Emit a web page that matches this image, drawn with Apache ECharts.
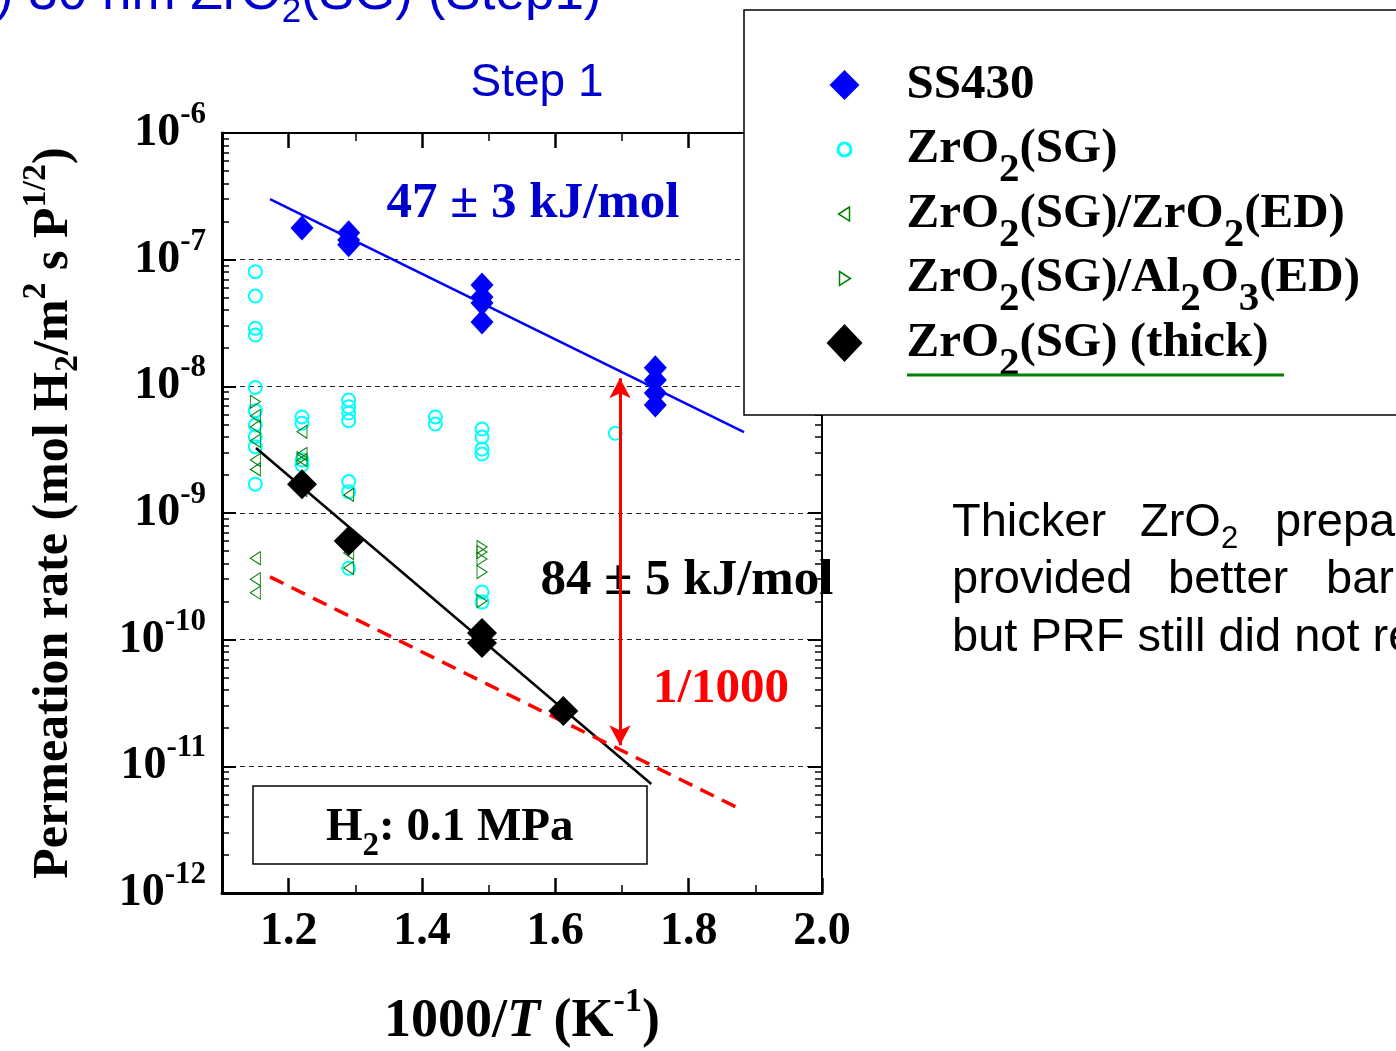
<!DOCTYPE html>
<html>
<head>
<meta charset="utf-8">
<title>Permeation rate</title>
<script src="https://cdn.jsdelivr.net/npm/echarts@6.0.0/dist/echarts.min.js"></script>
<style>
  html, body { margin: 0; padding: 0; background: #ffffff; }
  #chart { width: 1396px; height: 1051px; }
</style>
</head>
<body>
<div id="chart"></div>
<script>
var SERIF = 'Liberation Serif';
var SANS = 'Liberation Sans';
var TXT_BLUE = '#0000cc';

/* measured points: [1000/T, permeation rate] */
var ss430 = [[1.22,1.78e-7],[1.29,1.63e-7],[1.29,1.43e-7],[1.29,1.31e-7],
  [1.49,6.3e-8],[1.49,5.07e-8],[1.49,4.55e-8],[1.49,3.22e-8],
  [1.75,1.40e-8],[1.75,1.12e-8],[1.75,8.85e-9],[1.75,7.13e-9]];
var zro2SG = [[1.15,8.04e-8],[1.15,5.16e-8],[1.15,2.87e-8],[1.15,2.54e-8],[1.15,9.8e-9],
  [1.15,6.43e-9],[1.15,4.95e-9],[1.15,4.0e-9],[1.15,3.34e-9],[1.15,1.69e-9],
  [1.22,5.73e-9],[1.22,5.11e-9],[1.22,2.62e-9],[1.22,2.39e-9],
  [1.29,7.8e-9],[1.29,6.9e-9],[1.29,6.16e-9],[1.29,5.36e-9],[1.29,1.77e-9],[1.29,1.47e-9],[1.29,3.66e-10],
  [1.42,5.73e-9],[1.42,5.04e-9],
  [1.49,4.6e-9],[1.49,3.98e-9],[1.49,3.2e-9],[1.49,2.92e-9],[1.49,2.38e-10],[1.49,1.98e-10],
  [1.69,4.26e-9]];
var zro2SGzro2ED = [[1.15,5.83e-9],[1.15,4.8e-9],[1.15,3.72e-9],[1.15,2.62e-9],[1.15,2.21e-9],
  [1.15,4.39e-10],[1.15,3.0e-10],[1.15,2.35e-10],
  [1.22,4.38e-9],[1.22,2.92e-9],[1.22,2.62e-9],[1.22,1.52e-9],
  [1.29,1.39e-9],[1.29,4.83e-10],[1.29,3.68e-10]];
var zro2SGal2o3ED = [[1.15,7.56e-9],[1.22,2.72e-9],
  [1.49,5.39e-10],[1.49,4.92e-10],[1.49,4.34e-10],[1.49,3.42e-10],[1.49,2.02e-10]];
var zro2Thick = [[1.22,1.69e-9],[1.29,6.01e-10],[1.49,1.13e-10],[1.49,9.4e-11],[1.612,2.73e-11]];

/* fitted lines and the 1/1000 target */
var fitSS430 = [[1.172,3.01e-7],[1.883,4.35e-9]];
var fitThick = [[1.151,3.26e-9],[1.744,7.26e-12]];
var target1000 = [[1.172,3.13e-10],[1.874,4.69e-12]];
var prfArrow = [[1.697,1.16e-8],[1.697,1.47e-11]];

/* axis ticks */
var xMajorTicks = [1.2, 1.4, 1.6, 1.8, 2.0];
var xMinorTicks = [1.3, 1.5, 1.7, 1.9];
var yMinorMantissa = [2, 3, 4, 5, 6, 7, 8, 9];
var yDecadeMin = -12, yDecadeMax = -6;

var yMinorTicks = [];
for (var e = yDecadeMin; e < yDecadeMax; e++) {
  for (var k = 0; k < yMinorMantissa.length; k++) {
    yMinorTicks.push(e + Math.log10(yMinorMantissa[k]));
  }
}

var legendRich = {
  'SS430': '{g| }{m|SS430}{s| }',
  'ZrO2(SG)': '{g| }{m|ZrO}{s|2}{m|(SG)}',
  'ZrO2(SG)/ZrO2(ED)': '{g| }{m|ZrO}{s|2}{m|(SG)/ZrO}{s|2}{m|(ED)}',
  'ZrO2(SG)/Al2O3(ED)': '{g| }{m|ZrO}{s|2}{m|(SG)/Al}{s|2}{m|O}{s|3}{m|(ED)}',
  'ZrO2(SG) (thick)': '{g| }{m|ZrO}{s|2}{m|(SG) (thick)}'
};

/* rich text token: text centre sits at padTop + boxH/2 inside the line */
function tok(family, size, boxH, padTop, padBottom, extra) {
  var s = {
    fontFamily: family, fontWeight: 'bold', fontSize: size, color: '#000',
    height: boxH, lineHeight: boxH + padTop + padBottom,
    padding: [padTop, 0, padBottom, 0], verticalAlign: 'top'
  };
  for (var key in extra) { s[key] = extra[key]; }
  return s;
}

function minorAxis(type, pos, ticks, len) {
  return {
    type: 'value', position: pos,
    min: type === 'x' ? 1.1 : yDecadeMin, max: type === 'x' ? 2.0 : yDecadeMax,
    axisLine: { show: false, onZero: false },
    axisTick: { show: true, inside: true, length: len, customValues: ticks, lineStyle: { color: '#000', width: 1.5 } },
    axisLabel: { show: false },
    splitLine: { show: false }
  };
}

var chart = echarts.init(document.getElementById('chart'));

var option = {
  animation: false,
  backgroundColor: '#ffffff',
  grid: { left: 222, top: 133, width: 600, height: 760, containLabel: false, outerBoundsMode: 'none' },
  legend: {
    orient: 'vertical', left: 821, top: 53, padding: 0,
    itemWidth: 44, itemHeight: 44, itemGap: -9,
    selectedMode: false, z: 60,
    data: [
      { name: 'SS430', icon: 'path://M22,7 L37,22 L22,37 L7,22 Z M0,0 M44,44', itemStyle: { color: '#0000ff', borderWidth: 0, opacity: 1 } },
      { name: 'ZrO2(SG)', icon: 'path://M15.5,22 A6.5,6.5 0 1 1 28.5,22 A6.5,6.5 0 1 1 15.5,22 Z M0,0 M44,44',
        itemStyle: { color: 'rgba(0,0,0,0)', borderColor: '#00ffff', borderWidth: 3, opacity: 1 } },
      { name: 'ZrO2(SG)/ZrO2(ED)', icon: 'path://M27,15 L16,22 L27,29 Z M0,0 M44,44',
        itemStyle: { color: 'rgba(0,0,0,0)', borderColor: '#008000', borderWidth: 1.5, opacity: 1 } },
      { name: 'ZrO2(SG)/Al2O3(ED)', icon: 'path://M17,15 L28,22 L17,29 Z M0,0 M44,44',
        itemStyle: { color: 'rgba(0,0,0,0)', borderColor: '#008000', borderWidth: 1.5, opacity: 1 } },
      { name: 'ZrO2(SG) (thick)', icon: 'path://M22,3 L40,22 L22,41 L4,22 Z M0,0 M44,44', itemStyle: { color: '#000000', borderWidth: 0, opacity: 1 } }
    ],
    formatter: function (name) { return legendRich[name]; },
    textStyle: {
      color: '#000', fontFamily: SERIF, fontWeight: 'bold', fontSize: 49,
      rich: {
        g: tok(SERIF, 49, 48, 8, 8, { width: 35 }),
        m: tok(SERIF, 49, 48, 8, 8),
        s: tok(SERIF, 41, 20, 43, 1)
      }
    }
  },
  xAxis: [
    {
      type: 'value', position: 'bottom', min: 1.1, max: 2.0,
      name: '{m|1000/}{i|T}{m| (K}{p|-1}{m|)}', nameLocation: 'middle', nameGap: 86,
      nameTextStyle: {
        rich: {
          m: tok(SERIF, 54, 54, 16, 16),
          i: tok(SERIF, 54, 54, 16, 16, { fontStyle: 'italic' }),
          p: tok(SERIF, 34, 20, 13, 53)
        }
      },
      axisLine: { show: true, onZero: false, lineStyle: { color: '#000', width: 3 } },
      axisTick: { show: true, inside: true, length: 15, customValues: xMajorTicks, lineStyle: { color: '#000', width: 2.5 } },
      axisLabel: {
        show: true, customValues: xMajorTicks, margin: 16,
        formatter: function (v) { return v.toFixed(1); },
        color: '#000', fontFamily: SERIF, fontWeight: 'bold', fontSize: 46, lineHeight: 46
      },
      splitLine: { show: false }
    },
    minorAxis('x', 'bottom', xMinorTicks, 8),
    {
      type: 'value', position: 'top', min: 1.1, max: 2.0,
      axisLine: { show: true, onZero: false, lineStyle: { color: '#000', width: 2 } },
      axisTick: { show: true, inside: true, length: 15, customValues: xMajorTicks, lineStyle: { color: '#000', width: 2.5 } },
      axisLabel: { show: false },
      splitLine: { show: false }
    },
    minorAxis('x', 'top', xMinorTicks, 8)
  ],
  yAxis: [
    {
      type: 'log', logBase: 10, position: 'left', min: 1e-12, max: 1e-6,
      name: '{m|Permeation rate (mol H}{b|2}{m|/m}{p|2}{m| s P}{p|1/2}{m|)}',
      nameLocation: 'middle', nameRotate: 90, nameGap: 131,
      nameTextStyle: {
        rich: {
          m: tok(SERIF, 50, 50, 12, 12),
          b: tok(SERIF, 34, 20, 41, 13),
          p: tok(SERIF, 34, 20, 9, 45)
        }
      },
      axisLine: { show: true, onZero: false, lineStyle: { color: '#000', width: 3 } },
      axisTick: { show: true, inside: true, length: 14, lineStyle: { color: '#000', width: 2 } },
      axisLabel: {
        show: true, margin: 16,
        formatter: function (v) { return '{b|10}{p|' + Math.round(Math.log10(v)) + '}'; },
        rich: {
          b: tok(SERIF, 46, 46, 18, 18),
          p: tok(SERIF, 31, 30, 8, 44)
        }
      },
      splitLine: { show: true, lineStyle: { color: '#222', width: 1.2, type: [5, 4] } }
    },
    minorAxis('y', 'left', yMinorTicks, 7),
    {
      type: 'log', logBase: 10, position: 'right', min: 1e-12, max: 1e-6,
      axisLine: { show: true, onZero: false, lineStyle: { color: '#000', width: 2 } },
      axisTick: { show: true, inside: true, length: 14, lineStyle: { color: '#000', width: 2 } },
      axisLabel: { show: false },
      splitLine: { show: false }
    },
    minorAxis('y', 'right', yMinorTicks, 7)
  ],
  series: [
    {
      name: 'ZrO2(SG)', type: 'scatter', data: zro2SG, z: 2,
      symbol: 'circle', symbolSize: 13,
      itemStyle: { color: 'rgba(0,0,0,0)', borderColor: '#00ffff', borderWidth: 2, opacity: 1 },
      emphasis: { disabled: true }
    },
    {
      name: 'ZrO2(SG)/ZrO2(ED)', type: 'scatter', data: zro2SGzro2ED, z: 2,
      symbol: 'path://M10,0 L0,6 L10,12 Z', symbolSize: [10, 13],
      itemStyle: { color: 'rgba(0,0,0,0)', borderColor: '#008000', borderWidth: 1, opacity: 1 },
      emphasis: { disabled: true }
    },
    {
      name: 'ZrO2(SG)/Al2O3(ED)', type: 'scatter', data: zro2SGal2o3ED, z: 2,
      symbol: 'path://M0,0 L10,6 L0,12 Z', symbolSize: [10, 13],
      itemStyle: { color: 'rgba(0,0,0,0)', borderColor: '#008000', borderWidth: 1, opacity: 1 },
      emphasis: { disabled: true }
    },
    {
      name: 'fit SS430', type: 'line', data: fitSS430, z: 3,
      symbol: 'none', lineStyle: { color: '#0000ff', width: 2.5 }, silent: true
    },
    {
      name: 'fit thick', type: 'line', data: fitThick, z: 3,
      symbol: 'none', lineStyle: { color: '#000000', width: 2.5 }, silent: true
    },
    {
      name: 'target 1/1000', type: 'line', data: target1000, z: 3,
      symbol: 'none', lineStyle: { color: '#ff0000', width: 3.5, type: [15, 9] }, silent: true
    },
    {
      name: 'PRF arrow', type: 'line', data: prfArrow, z: 4,
      symbol: 'none', lineStyle: { width: 0, opacity: 0 }, silent: true,
      markLine: {
        silent: true, symbol: ['arrow', 'arrow'], symbolSize: [16, 20],
        label: { show: false },
        lineStyle: { color: '#ff0000', width: 3, type: 'solid' },
        emphasis: { disabled: true },
        data: [[{ coord: prfArrow[0] }, { coord: prfArrow[1] }]]
      }
    },
    {
      name: 'SS430', type: 'scatter', data: ss430, z: 5,
      symbol: 'diamond', symbolSize: [23, 25],
      itemStyle: { color: '#0000ff', opacity: 1 },
      emphasis: { disabled: true }
    },
    {
      name: 'ZrO2(SG) (thick)', type: 'scatter', data: zro2Thick, z: 5,
      symbol: 'diamond', symbolSize: [30, 30],
      itemStyle: { color: '#000000', opacity: 1 },
      emphasis: { disabled: true }
    }
  ],
  graphic: {
    elements: [
      {
        type: 'text', x: -4, y: -6, z: 10,
        style: {
          text: '{a|) 30 nm ZrO}{b|2}{a|(SG) (Step1)}', fill: TXT_BLUE, align: 'left', verticalAlign: 'middle',
          rich: { a: tok(SANS, 53, 52, 14, 14, { fontWeight: 'normal' }), b: tok(SANS, 35, 20, 48, 12, { fontWeight: 'normal' }) }
        }
      },
      {
        type: 'text', x: 537, y: 83, z: 10,
        style: { text: 'Step 1', fill: TXT_BLUE, font: '46px "Liberation Sans"', align: 'center', verticalAlign: 'middle' }
      },
      {
        type: 'text', x: 533, y: 204, z: 10,
        style: { text: '47 \u00b1 3 kJ/mol', fill: TXT_BLUE, font: 'bold 51px "Liberation Serif"', align: 'center', verticalAlign: 'middle' }
      },
      {
        type: 'text', x: 687, y: 581, z: 1,
        style: { text: '84 \u00b1 5 kJ/mol', fill: '#000', font: 'bold 51px "Liberation Serif"', align: 'center', verticalAlign: 'middle' }
      },
      {
        type: 'text', x: 721, y: 689, z: 10,
        style: { text: '1/1000', fill: '#ff0000', font: 'bold 49px "Liberation Serif"', align: 'center', verticalAlign: 'middle' }
      },
      {
        type: 'rect', z: 10,
        shape: { x: 253, y: 786, width: 394, height: 78 },
        style: { fill: '#ffffff', stroke: '#000', lineWidth: 1.5 }
      },
      {
        type: 'text', x: 326, y: 828, z: 11,
        style: {
          text: '{m|H}{s|2}{m|: 0.1 MPa}', fill: '#000', align: 'left', verticalAlign: 'middle',
          rich: { m: tok(SERIF, 47, 46, 9, 9), s: tok(SERIF, 33, 20, 40, 4) }
        }
      },
      {
        type: 'rect', z: 50,
        shape: { x: 744, y: 10, width: 700, height: 405 },
        style: { fill: '#ffffff', stroke: '#000', lineWidth: 1.5 }
      },
      {
        type: 'line', z: 61,
        shape: { x1: 907, y1: 375, x2: 1284, y2: 375 },
        style: { stroke: '#008000', lineWidth: 3 }
      },
      {
        type: 'text', x: 952, y: 523, z: 10,
        style: { text: 'Thicker', fill: '#000', font: '47px "Liberation Sans"', align: 'left', verticalAlign: 'middle' }
      },
      {
        type: 'text', x: 1140, y: 523, z: 10,
        style: {
          text: '{a|ZrO}{b|2}', fill: '#000', align: 'left', verticalAlign: 'middle',
          rich: { a: tok(SANS, 47, 46, 8, 8, { fontWeight: 'normal' }), b: tok(SANS, 31, 20, 37, 5, { fontWeight: 'normal' }) }
        }
      },
      {
        type: 'text', x: 1275, y: 523, z: 10,
        style: { text: 'prepared', fill: '#000', font: '47px "Liberation Sans"', align: 'left', verticalAlign: 'middle' }
      },
      {
        type: 'text', x: 952, y: 580, z: 10,
        style: { text: 'provided', fill: '#000', font: '47px "Liberation Sans"', align: 'left', verticalAlign: 'middle' }
      },
      {
        type: 'text', x: 1168, y: 580, z: 10,
        style: { text: 'better', fill: '#000', font: '47px "Liberation Sans"', align: 'left', verticalAlign: 'middle' }
      },
      {
        type: 'text', x: 1326, y: 580, z: 10,
        style: { text: 'barrier', fill: '#000', font: '47px "Liberation Sans"', align: 'left', verticalAlign: 'middle' }
      },
      {
        type: 'text', x: 952, y: 638, z: 10,
        style: { text: 'but PRF still did not reach', fill: '#000', font: '47px "Liberation Sans"', align: 'left', verticalAlign: 'middle' }
      }
    ]
  }
};

chart.setOption(option);
</script>
</body>
</html>
